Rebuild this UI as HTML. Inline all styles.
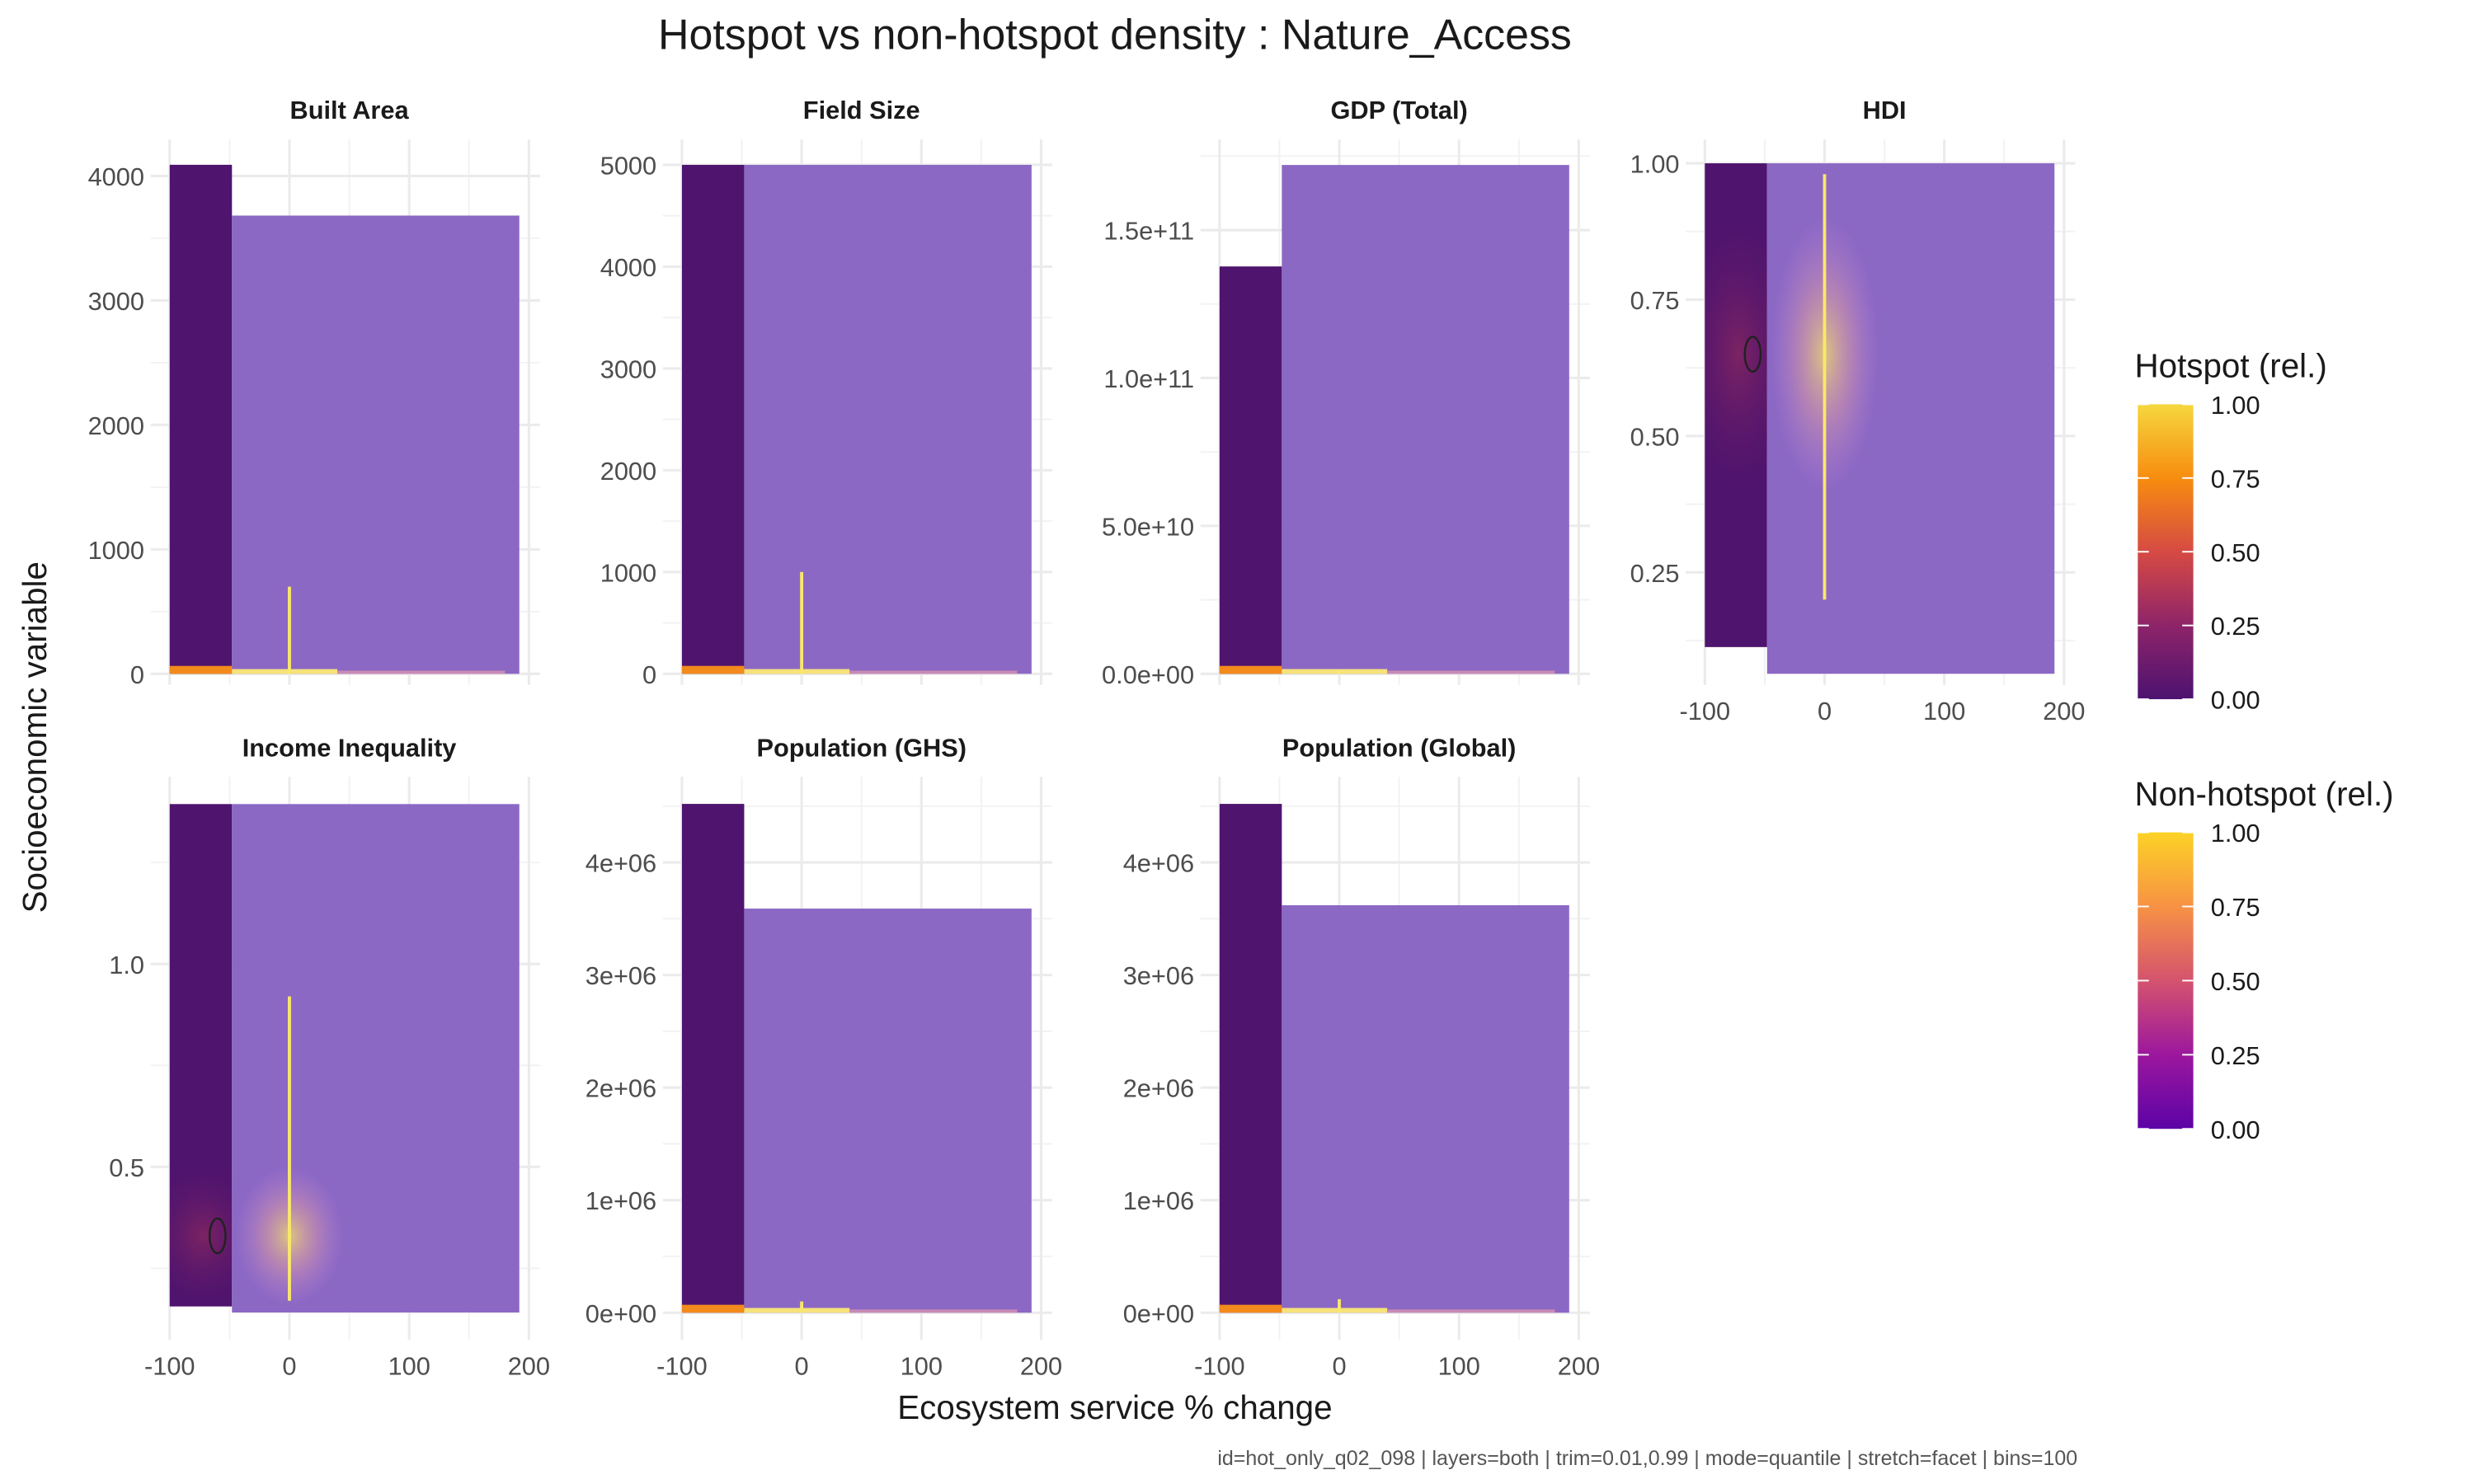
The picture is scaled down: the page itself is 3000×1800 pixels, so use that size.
<!DOCTYPE html>
<html><head><meta charset="utf-8">
<style>
html,body{margin:0;padding:0;background:#fff;}
svg{display:block;font-family:"Liberation Sans",sans-serif;}
</style></head>
<body>
<svg id="chart" width="3000" height="1800" viewBox="0 0 1560 936" xmlns="http://www.w3.org/2000/svg">
<defs id="defs">
<linearGradient id="hotGrad" x1="0" y1="1" x2="0" y2="0">
<stop offset="0" stop-color="#4c1270"/><stop offset="0.25" stop-color="#8e2469"/><stop offset="0.5" stop-color="#d64a43"/><stop offset="0.75" stop-color="#f78d0f"/><stop offset="1" stop-color="#f6d73e"/>
</linearGradient>
<linearGradient id="nonGrad" x1="0" y1="1" x2="0" y2="0">
<stop offset="0" stop-color="#5c03a6"/><stop offset="0.25" stop-color="#9c179e"/><stop offset="0.5" stop-color="#d4536e"/><stop offset="0.75" stop-color="#f79244"/><stop offset="1" stop-color="#fcd225"/>
</linearGradient>
<radialGradient id="glowR" cx="0.5" cy="0.5" r="0.5">
<stop offset="0" stop-color="#f5e06a" stop-opacity="0.9"/><stop offset="0.5" stop-color="#e7a3a0" stop-opacity="0.5"/><stop offset="1" stop-color="#c98bd0" stop-opacity="0"/>
</radialGradient>
<radialGradient id="hotGlowR" cx="0.5" cy="0.5" r="0.5">
<stop offset="0" stop-color="#9a2d5a" stop-opacity="0.6"/><stop offset="1" stop-color="#6a1a6a" stop-opacity="0"/>
</radialGradient>
</defs>
<text x="703" y="31" font-size="27" text-anchor="middle" fill="#1a1a1a">Hotspot vs non-hotspot density : Nature_Access</text>
<text transform="translate(29,465) rotate(-90)" font-size="21" text-anchor="middle" fill="#1a1a1a">Socioeconomic variable</text>
<text x="703" y="895" font-size="21" text-anchor="middle" fill="#1a1a1a">Ecosystem service % change</text>
<text x="1310" y="924" font-size="13" text-anchor="end" fill="#555">id=hot_only_q02_098 | layers=both | trim=0.01,0.99 | mode=quantile | stretch=facet | bins=100</text>
<g id="panels"></g>
<g>
<text x="1346" y="238" font-size="21" fill="#1a1a1a">Hotspot (rel.)</text>
<rect x="1348" y="255" width="35" height="186" fill="url(#hotGrad)"/>
<g id="hotLegTicks"></g>
</g>
<g>
<text x="1346" y="508" font-size="21" fill="#1a1a1a">Non-hotspot (rel.)</text>
<rect x="1348" y="525" width="35" height="187" fill="url(#nonGrad)"/>
<g id="nonLegTicks"></g>
</g>
</svg>
<script>
const panelNames = ["Built Area","Field Size","GDP (Total)","HDI","Income Inequality","Population (GHS)","Population (Global)"];
const yTickValues = [[0,1000,2000,3000,4000],[0,1000,2000,3000,4000,5000],[0,5e10,1e11,1.5e11],[0.25,0.5,0.75,1.0],[0.5,1.0],[0,1e6,2e6,3e6,4e6],[0,1e6,2e6,3e6,4e6]];
const yTickLabels = [["0","1000","2000","3000","4000"],["0","1000","2000","3000","4000","5000"],["0.0e+00","5.0e+10","1.0e+11","1.5e+11"],["0.25","0.50","0.75","1.00"],["0.5","1.0"],["0e+00","1e+06","2e+06","3e+06","4e+06"],["0e+00","1e+06","2e+06","3e+06","4e+06"]];
const yLimLo = [-89,-109,-3.75e9,0.0436,0.074,-0.24e6,-0.24e6];
const yLimHi = [4293,5249,1.806e11,1.0436,1.461,4.76e6,4.76e6];
const hotTop = [4090,5000,1.377e11,1.0,1.394,4.52e6,4.52e6];
const hotBottom = [0,0,0,0.113,0.156,0,0];
const nonTop = [3682,5000,1.72e11,1.0,1.394,3.59e6,3.62e6];
const nonBottom = [0,0,0,0.064,0.141,0,0];
const hotXRange = [-100,-48];
const nonXRange = [-48,192];
const xTicks = [-100,0,100,200];
const streakTop = [700,1000,0.01e11,0.98,0.92,0.1e6,0.12e6];
const streakBottom = [0,0,0,0.2,0.17,0,0];
const glowCenter = [30,40,0.002e11,0.65,0.33,0.02e6,0.02e6];
const glowHalf = [60,60,0.001e11,0.25,0.17,0.01e6,0.01e6];
const hotLegendVals = [0,0.25,0.5,0.75,1.0];

const colX0 = [107,430,769,1075];
const rowTop = [88,490], rowBot = [432,845];
const pxPerUnit = 75.5/100;
const NS = "http://www.w3.org/2000/svg";
const root = document.getElementById('panels');
const defs = document.getElementById('defs');
function mk(tag, attrs, parent){const e=document.createElementNS(NS,tag);for(const k in attrs)e.setAttribute(k,attrs[k]);parent.appendChild(e);return e;}

panelNames.forEach((name,i)=>{
  const col = i<4 ? i : i-4, row = i<4 ? 0 : 1;
  const x0 = colX0[col];
  const xs = v => x0 + (v+100)*pxPerUnit;
  const top = rowTop[row], bot = rowBot[row];
  const ys = v => bot - (v - yLimLo[i])/(yLimHi[i]-yLimLo[i])*(bot-top);
  const g = mk('g',{},root);
  
  
  const left = xs(-100)-12, right = xs(200)+7;
  for(let v=-50; v<=150; v+=100){mk('line',{x1:xs(v),x2:xs(v),y1:top,y2:bot,stroke:'#f2f2f2','stroke-width':1},g);}
  const t = yTickValues[i];
  const step = t.length>1 ? t[1]-t[0] : 0.25;
  for(let v=t[0]-step/2; v<yLimHi[i]; v+=step){ if(v>yLimLo[i]) mk('line',{x1:left,x2:right,y1:ys(v),y2:ys(v),stroke:'#f2f2f2','stroke-width':1},g);}
  xTicks.forEach(v=>mk('line',{x1:xs(v),x2:xs(v),y1:top,y2:bot,stroke:'#ebebeb','stroke-width':1.6},g));
  t.forEach((v,k)=>{
    mk('line',{x1:left,x2:right,y1:ys(v),y2:ys(v),stroke:'#ebebeb','stroke-width':1.6},g);
    const tx = mk('text',{x:left-4,y:ys(v)+6,'font-size':16,'text-anchor':'end',fill:'#4d4d4d'},g);
    tx.textContent = yTickLabels[i][k];
    
    
  });
  const st = mk('text',{x:(xs(-100)+xs(200))/2,y:top-13,'font-size':16,'font-weight':'bold','text-anchor':'middle',fill:'#1a1a1a'},g);
  st.textContent = name;
  
  
  const hx = xs(hotXRange[0]), hy = ys(hotTop[i]), hw = xs(hotXRange[1])-xs(hotXRange[0]), hh = ys(hotBottom[i])-ys(hotTop[i]);
  const hr = mk('rect',{x:hx,y:hy,width:hw,height:hh,fill:'#4f146e'},g);
  
  
  const cp = mk('clipPath',{id:'hotclip'+i},defs);
  mk('rect',{x:hx,y:hy,width:hw,height:hh},cp);
  const nr = mk('rect',{x:xs(nonXRange[0]),y:ys(nonTop[i]),width:xs(nonXRange[1])-xs(nonXRange[0]),height:ys(nonBottom[i])-ys(nonTop[i]),fill:'#8c68c5'},g);
  
  
  const gy1 = ys(glowCenter[i]+glowHalf[i]), gy2 = ys(glowCenter[i]-glowHalf[i]);
  const isWide = (i===3||i===4);
  if(isWide){
    const gl = mk('ellipse',{cx:xs(0),cy:(gy1+gy2)/2,rx:xs(45)-xs(0),ry:(gy2-gy1)/2,fill:'url(#glowR)',opacity:0.85},g);
    
    
    const hg = mk('ellipse',{cx:xs(-72),cy:(gy1+gy2)/2,rx:xs(-48)-xs(-96),ry:(gy2-gy1)/2,fill:'url(#hotGlowR)','clip-path':'url(#hotclip'+i+')'},g);
    
    
  } else {
    const bs = mk('rect',{x:xs(-100),y:ys(0)-5,width:xs(-48)-xs(-100),height:5,fill:'#f28a1c'},g);
    
    
    const ns = mk('rect',{x:xs(-48),y:ys(0)-3,width:xs(40)-xs(-48),height:3,fill:'#f6e27a'},g);
    
    
    const ns2 = mk('rect',{x:xs(40),y:ys(0)-2,width:xs(180)-xs(40),height:2,fill:'#c98bb5'},g);
    
    
  }
  const sk = mk('rect',{x:xs(0)-1,y:ys(streakTop[i]),width:2,height:ys(streakBottom[i])-ys(streakTop[i]),fill:'#f9e86a'},g);
  
  
  if(isWide){
    const c = mk('ellipse',{cx:xs(-60),cy:ys(glowCenter[i]),rx:5,ry:11,fill:'none',stroke:'#222','stroke-width':1.3},g);
    
    
  }
  if(row===1 || col===3){
    xTicks.forEach(v=>{
      const tx = mk('text',{x:xs(v),y:bot+22,'font-size':16,'text-anchor':'middle',fill:'#4d4d4d'},g);
      tx.textContent = String(v);
      
      
    });
  }
});
function legendTicks(id, y0, y1){
  const p = document.getElementById(id);
  hotLegendVals.forEach(v=>{
    const y = y1 - v*(y1-y0);
    mk('line',{x1:1348,x2:1355,y1:y,y2:y,stroke:'#fff','stroke-width':1},p);
    mk('line',{x1:1376,x2:1383,y1:y,y2:y,stroke:'#fff','stroke-width':1},p);
    const t = mk('text',{x:1394,y:y+6,'font-size':16,fill:'#1a1a1a'},p);
    t.textContent = v.toFixed(2);
    
    
  });
}
legendTicks('hotLegTicks',255,441);
legendTicks('nonLegTicks',525,712);
</script>
</body></html>
